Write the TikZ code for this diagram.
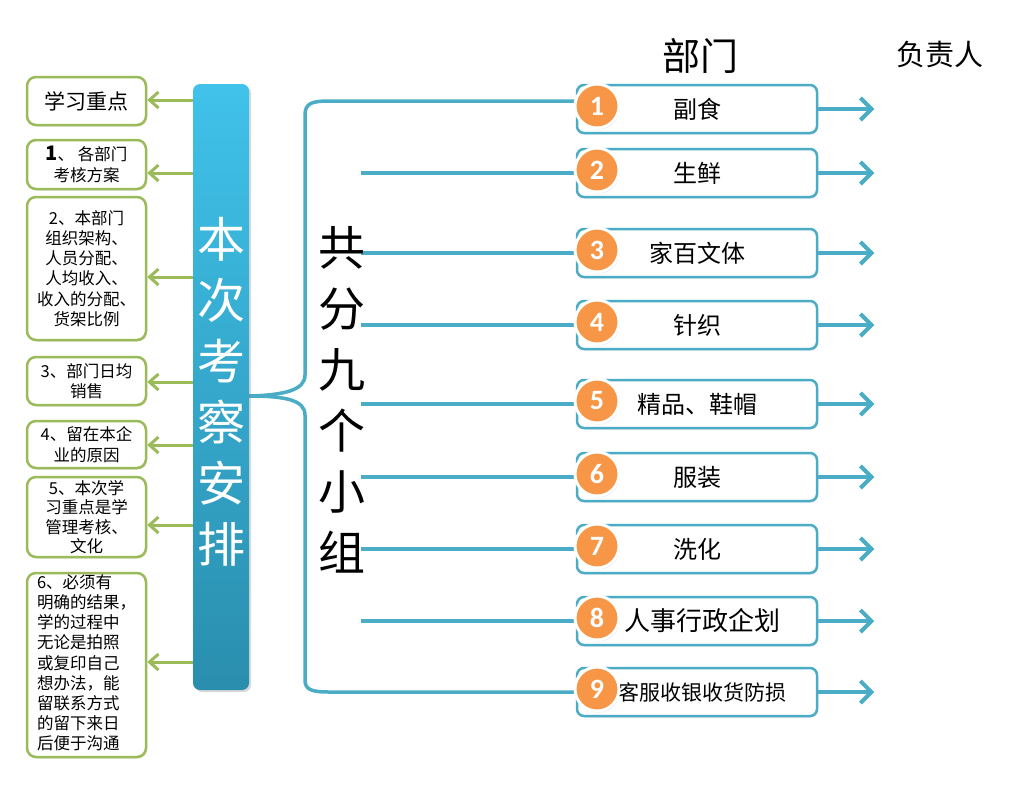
\documentclass[tikz,border=0pt]{standalone}
\usepackage{fontspec}
\setmainfont{Noto Sans CJK SC}
\newfontfamily\numfont{Carlito}
\usetikzlibrary{arrows.meta,shadows}
\definecolor{tealc}{HTML}{4BACC6}
\definecolor{greenc}{HTML}{9BBB59}
\definecolor{orangec}{HTML}{F79646}
\definecolor{bartop}{HTML}{40C2EA}
\definecolor{barbot}{HTML}{2A8EAE}
\pgfdeclarelayer{bg}
\pgfsetlayers{bg,main}
\tikzset{
  lbox/.style={draw=greenc, line width=2.5pt, rounded corners=9pt, fill=white,
    minimum width=119pt, inner sep=0pt, align=center,
    font=\fontsize{16.5}{20.3}\selectfont,
    drop shadow={opacity=0.2, shadow xshift=1pt, shadow yshift=-1.5pt}},
  rbox/.style={draw=tealc, line width=2.5pt, rounded corners=7pt, fill=white,
    minimum width=240pt, minimum height=48pt, inner sep=0pt,
    font=\fontsize{24}{26}\selectfont,
    drop shadow={opacity=0.2, shadow xshift=1pt, shadow yshift=-1.5pt}},
  numc/.style={circle, fill=orangec, draw=white, line width=3pt, minimum size=44pt,
    inner sep=0pt, text=white, font=\numfont\bfseries\fontsize{28}{28}\selectfont,
    drop shadow={opacity=0.3, shadow xshift=1pt, shadow yshift=-1.5pt}},
  garrow/.style={draw=greenc, line width=3pt, -{Straight Barb[length=9pt,width=16pt]}},
  tarrow/.style={draw=tealc, line width=4pt, -{Straight Barb[length=11pt,width=22pt]}},
  tline/.style={draw=tealc, line width=3.5pt},
  vtext/.style={align=center, inner sep=0pt},
}
\begin{document}
\begin{tikzpicture}[x=1pt,y=-1pt]
\useasboundingbox (0,0) rectangle (1024,807);

% headers
\node[font=\fontsize{38}{40}\selectfont] (h1) at (700,56) {部门};
\node[font=\fontsize{29}{30}\selectfont] (h2) at (940,55) {负责人};

% central bar
\node[rounded corners=7pt, minimum width=56pt, minimum height=606pt, inner sep=0pt,
  top color=bartop, bottom color=barbot, draw=none,
  drop shadow={opacity=0.3, shadow xshift=2pt, shadow yshift=-2pt}] (bar) at (221,387) {};
\node[vtext, text=white, font=\fontsize{48}{61}\selectfont] (bart) at (221,392)
  {本\\次\\考\\察\\安\\排};

% left boxes
\node[lbox, minimum height=48pt, font=\fontsize{21}{24}\selectfont] (l0) at (86.5,101) {学习重点};
\node[lbox, minimum height=49pt] (l1) at (86.5,164.5) {{\fontsize{20}{20}\selectfont\bfseries 1}、 各部门\\考核方案};
\node[lbox, minimum height=143pt] (l2) at (86.5,268.5) {2、本部门\\组织架构、\\人员分配、\\人均收入、\\收入的分配、\\货架比例};
\node[lbox, minimum height=48pt] (l3) at (86.5,381) {3、部门日均\\销售};
\node[lbox, minimum height=47pt] (l4) at (86.5,444.5) {4、留在本企\\业的原因};
\node[lbox, minimum height=80pt, font=\fontsize{16.5}{19.5}\selectfont] (l5) at (86.5,517) {5、本次学\\习重点是学\\管理考核、\\文化};
\node[lbox, minimum height=184pt, font=\fontsize{16.5}{20.2}\selectfont] (l6) at (86.5,665)
  {\begin{tabular}{@{}l@{}}6、必须有\\明确的结果，\\学的过程中\\无论是拍照\\或复印自己\\想办法，能\\留联系方式\\的留下来日\\后便于沟通\end{tabular}};

% green arrows
\coordinate (g0) at (0,100);
\coordinate (g1) at (0,173);
\coordinate (g2) at (0,277);
\coordinate (g3) at (0,382);
\coordinate (g4) at (0,445);
\coordinate (g5) at (0,525);
\coordinate (g6) at (0,662);
\foreach \i in {0,...,6} {
  \draw[garrow] (bar.west |- g\i) -- (l\i.east |- g\i);
}

% group label
\node[vtext, font=\fontsize{47}{61}\selectfont] (grp) at (342,400) {共\\分\\九\\个\\小\\组};

% right boxes
\node[rbox] (r1) at (697,109) {副食};
\node[rbox] (r2) at (697,173) {生鲜};
\node[rbox] (r3) at (697,253) {家百文体};
\node[rbox] (r4) at (697,325) {针织};
\node[rbox] (r5) at (697,404) {精品、鞋帽};
\node[rbox] (r6) at (697,477) {服装};
\node[rbox] (r7) at (697,549) {洗化};
\node[rbox, font=\fontsize{26}{28}\selectfont] (r8) at (697,621) {\hspace*{10pt}人事行政企划};
\node[rbox, font=\fontsize{21}{24}\selectfont] (r9) at (697,692) {\hspace*{10pt}客服收银收货防损};

% brace and lines (behind boxes)
\coordinate (tip) at (249,396);
\coordinate (btop) at (0,101);
\begin{pgfonlayer}{bg}
\draw[tline, line cap=round]
  (r1.west |- btop) -- (330,101) .. controls (312,101) and (305,103) .. (305,115)
  -- (305,375) .. controls (305,390) and (285,395) .. (tip);
\draw[tline, line cap=round]
  (r9.west) -- (330,692) .. controls (312,692) and (305,690) .. (305,680)
  -- (305,415) .. controls (305,400) and (285,396) .. (tip);
\foreach \i in {2,...,8} {
  \draw[tline] ([xshift=-215pt]r\i.west) -- (r\i.west);
}
\end{pgfonlayer}

% number circles and arrows
\coordinate (cx) at (597,0);
\foreach \i in {1,...,9} {
  \node[numc, yshift=3pt] (n\i) at (r\i.west -| cx) {\i};
  \draw[tarrow] (r\i.east) -- ([xshift=56pt]r\i.east);
}
\end{tikzpicture}
\end{document}
